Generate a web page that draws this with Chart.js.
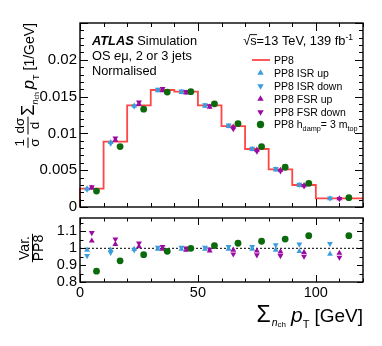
<!DOCTYPE html>
<html><head><meta charset="utf-8">
<script src="https://cdn.jsdelivr.net/npm/chart.js@4.4.1/dist/chart.umd.min.js"></script>
<style>
html,body{margin:0;padding:0;background:#fff;}
#wrap{position:relative;width:382px;height:346px;overflow:hidden;}
canvas{position:absolute;left:0;top:0;}
</style></head><body>
<div id="wrap"><canvas id="main" width="382" height="346"></canvas><canvas id="ratio" width="382" height="346"></canvas></div>
<script>
// ---------- data ----------
const binEdges = [0,10,20,30,40,50,60,70,80,90,100,120];
const pp8      = [0.00250,0.00887,0.01382,0.01590,0.01567,0.01380,0.01100,0.00788,0.00512,0.00299,0.00118];
const isrUp    = [0.00248,0.00878,0.01375,0.01582,0.01559,0.01373,0.01095,0.00784,0.00507,0.00294,0.00114];
const isrDown  = [0.00239,0.00865,0.01368,0.01598,0.01575,0.01387,0.01111,0.00796,0.00522,0.00306,0.00121];
const fsrUp    = [0.00261,0.00908,0.01396,0.01582,0.01551,0.01359,0.01089,0.00776,0.00502,0.00292,0.00115];
const fsrDown  = [0.00273,0.00935,0.01423,0.01606,0.01567,0.01373,0.01062,0.00756,0.00489,0.00285,0.00112];
const hdamp    = [0.00216,0.00821,0.01329,0.01561,0.01567,0.01402,0.01133,0.00821,0.00540,0.00321,0.00127];
const rIsrUp   = [0.990,0.990,0.995,0.995,0.995,0.995,0.995,0.995,0.990,0.982,0.966];
const rIsrDown = [0.956,0.975,0.990,1.005,1.005,1.005,1.010,1.010,1.020,1.024,1.028];
const rFsrUp   = [1.044,1.024,1.010,0.995,0.990,0.985,0.990,0.985,0.980,0.976,0.972];
const rFsrDown = [1.092,1.054,1.030,1.010,1.000,0.995,0.965,0.960,0.956,0.952,0.946];
const rHdamp   = [0.864,0.926,0.962,0.982,1.000,1.016,1.030,1.042,1.055,1.075,1.075];
const xTickValues = [0,50,100];
const xTickLabels = ['0','50','100'];
const mainYTickValues = [0,0.005,0.01,0.015,0.02];
const mainYTickLabels = ['0','0.005','0.01','0.015','0.02'];
const ratioYTickValues = [0.8,0.9,1,1.1];
const ratioYTickLabels = ['0.8','0.9','1','1.1'];

// ---------- style ----------
const FF = '"Liberation Sans", Arial, Helvetica, sans-serif';
const F = (s, st) => `${st||''} ${s}px ${FF}`.trim();
const C_PP8 = '#ff4646', C_ISR = '#3b9ddb', C_FSR = '#9b0aa2', C_HD = '#0b6a0b';
const R_MK = 3.4;

function markerPts(vals, frac){
  return vals.map((v,i)=>({x: binEdges[i] + frac*(binEdges[i+1]-binEdges[i]), y: v}));
}
function histPts(vals){
  const a=[{x:binEdges[0],y:0}];
  vals.forEach((v,i)=>a.push({x:binEdges[i],y:v}));
  a.push({x:binEdges[binEdges.length-1], y:vals[vals.length-1]});
  return a;
}
function mk(data, color, style, rot, order){
  return {type:'scatter', data, backgroundColor:color, borderColor:color, borderWidth:0,
    pointStyle:style, rotation:rot, pointRadius:R_MK, pointHoverRadius:R_MK, order:order};
}

// ---------- text helpers ----------
function drawRuns(ctx, runs, x, y, dry){
  let cx = x;
  for(const r of runs){
    ctx.font = r.font;
    if(r.frac){
      const w0 = ctx.measureText(r.frac[0]).width, w1 = ctx.measureText(r.frac[1]).width;
      const w = Math.max(w0,w1) + 2;
      if(!dry){
        ctx.fillText(r.frac[0], cx+(w-w0)/2, y+r.nb);
        ctx.fillText(r.frac[1], cx+(w-w1)/2, y+r.db);
        ctx.fillRect(cx, y+r.bar, w, 1);
      }
      cx += w + (r.gap||0);
    } else {
      if(!dry) ctx.fillText(r.t, cx, y+(r.dy||0));
      cx += ctx.measureText(r.t).width + (r.gap||0);
    }
  }
  return cx - x;
}

// ---------- decoration plugin ----------
const deco = {
  id:'deco',
  afterDraw(chart, args, o){
    const ctx = chart.ctx, a = chart.chartArea, xs = chart.scales.x, ys = chart.scales.y;
    ctx.save();
    ctx.strokeStyle = '#000'; ctx.lineWidth = 1;
    const ln = (x1,y1,x2,y2)=>{ctx.beginPath();ctx.moveTo(x1,y1);ctx.lineTo(x2,y2);ctx.stroke();};
    for(let i=0;;i++){
      const v = xs.min + i*o.xMinor; if(v>xs.max+1e-9) break;
      const px = Math.round(xs.getPixelForValue(v))+0.5;
      const maj = Math.abs(v/o.xMajor - Math.round(v/o.xMajor))<1e-6;
      const len = maj ? o.xMajLen : o.xMinLen;
      ln(px,a.bottom,px,a.bottom-len); ln(px,a.top,px,a.top+len);
    }
    for(let i=0;;i++){
      const v = o.yStart + i*o.yMinor; if(v>ys.max+1e-9) break;
      const py = Math.round(ys.getPixelForValue(v))+0.5;
      const maj = Math.abs(v/o.yMajor - Math.round(v/o.yMajor))<1e-6;
      const len = maj ? o.yMajLen : o.yMinLen;
      ln(a.left,py,a.left+len,py); ln(a.right,py,a.right-len,py);
    }
    ctx.lineWidth = 1.4;
    ctx.strokeRect(a.left, a.top, a.right-a.left, a.bottom-a.top);
    ctx.fillStyle = '#000';
    if(o.text) o.text(ctx, chart);
    ctx.restore();
  }
};
Chart.register(deco);

function mainText(ctx, chart){
  ctx.textBaseline = 'alphabetic';
  drawRuns(ctx, [{t:'ATLAS', font:F(12.8,'italic bold'), gap:0},{t:' Simulation', font:F(12.8)}], 92, 45);
  drawRuns(ctx, [{t:'OS ', font:F(12.8)},{t:'e', font:F(12.8,'italic')},{t:'μ, 2 or 3 jets', font:F(12.8)}], 92, 60);
  drawRuns(ctx, [{t:'Normalised', font:F(12.8)}], 92, 74.5);
  const sRuns = [{t:'√', font:F(12.8)},{t:'s', font:F(12.8)},{t:'=13 TeV, 139 fb', font:F(12.8)},{t:'-1', font:F(8.5), dy:-5}];
  const sw = drawRuns(ctx, sRuns, 0, 0, true);
  const sx = 353 - sw;
  drawRuns(ctx, sRuns, sx, 45);
  ctx.font = F(12.8);
  const w1 = ctx.measureText('√').width, w2 = ctx.measureText('s').width;
  ctx.fillRect(sx+w1-0.5, 34.2, w2+1, 0.9);
  // legend
  const lx = 260.5, tx = 274;
  const rows = [60, 73, 86, 99, 112, 124.5];
  ctx.strokeStyle = C_PP8; ctx.lineWidth = 1.8;
  ctx.beginPath(); ctx.moveTo(252, rows[0]); ctx.lineTo(270, rows[0]); ctx.stroke();
  const mks = [[C_ISR,'triangle',0],[C_ISR,'triangle',180],[C_FSR,'triangle',0],[C_FSR,'triangle',180],[C_HD,'circle',0]];
  mks.forEach((m,i)=>{
    ctx.fillStyle = m[0]; ctx.strokeStyle = m[0]; ctx.lineWidth = 0.5;
    Chart.helpers.drawPoint(ctx, {pointStyle:m[1], rotation:m[2], radius:R_MK+0.3, borderWidth:0}, lx, rows[i+1]);
  });
  ctx.fillStyle = '#000';
  const lf = F(10.5), sf = F(7.3);
  const labels = ['PP8','PP8 ISR up','PP8 ISR down','PP8 FSR up','PP8 FSR down'];
  labels.forEach((l,i)=>drawRuns(ctx,[{t:l,font:lf}], tx, rows[i]+3.8));
  drawRuns(ctx, [{t:'PP8 h',font:lf},{t:'damp',font:sf,dy:2.5},{t:'= 3 m',font:lf},{t:'top',font:sf,dy:2.5}], tx, rows[5]+3.8);
  // y axis title (rotated)
  const yr = [
    {frac:['1','σ'], font:F(13.5), nb:-10, db:4.5, bar:-6.5, gap:3},
    {frac:['dσ','d'], font:F(13.5), nb:-10, db:4.5, bar:-6.5, gap:1},
    {t:'Σ', font:F(18), gap:0},
    {t:'n', font:F(9,'italic'), dy:4},
    {t:'ch', font:F(7), dy:5, gap:3},
    {t:'p', font:F(16.5,'italic')},
    {t:'T', font:F(9), dy:5, gap:4},
    {t:'[1/GeV]', font:F(14)}
  ];
  const tw = drawRuns(ctx, yr, 0, 0, true);
  ctx.save();
  ctx.translate(34, 23 + tw);
  ctx.rotate(-Math.PI/2);
  drawRuns(ctx, yr, 0, 0);
  ctx.restore();
}

function ratioText(ctx, chart){
  ctx.textBaseline = 'alphabetic';
  const xr = [
    {t:'Σ', font:F(23), gap:1},
    {t:'n', font:F(10.5,'italic'), dy:4},
    {t:'ch', font:F(8), dy:5, gap:5},
    {t:'p', font:F(21,'italic')},
    {t:'T', font:F(11), dy:6, gap:5},
    {t:'[GeV]', font:F(19)}
  ];
  const w = drawRuns(ctx, xr, 0, 0, true);
  drawRuns(ctx, xr, 363 - w, 322);
  const yr = [{frac:['Var.','PP8'], font:F(14), nb:-3, db:11, bar:0}];
  const tw = drawRuns(ctx, yr, 0, 0, true);
  ctx.save();
  ctx.translate(32, 248 + tw/2);
  ctx.rotate(-Math.PI/2);
  drawRuns(ctx, yr, 0, 0);
  ctx.restore();
}

const common = { responsive:false, animation:false, devicePixelRatio:1, events:[] };

new Chart(document.getElementById('main'), {
  type:'scatter',
  data:{datasets:[
    {type:'line', data:histPts(pp8), stepped:'before', borderColor:C_PP8, borderWidth:1.8, pointRadius:0, fill:false, order:10, clip:false},
    mk(markerPts(isrUp,0.3), C_ISR, 'triangle', 0, 5),
    mk(markerPts(isrDown,0.3), C_ISR, 'triangle', 180, 5),
    mk(markerPts(fsrUp,0.5), C_FSR, 'triangle', 0, 4),
    mk(markerPts(fsrDown,0.5), C_FSR, 'triangle', 180, 4),
    mk(markerPts(hdamp,0.7), C_HD, 'circle', 0, 3)
  ]},
  options:Object.assign({}, common, {
    layout:{padding:{left:0, top:23, right:19, bottom:139}},
    plugins:{legend:{display:false}, tooltip:{enabled:false},
      deco:{xMinor:10, xMajor:50, xMajLen:8, xMinLen:4, yStart:0, yMinor:0.001, yMajor:0.005, yMajLen:8, yMinLen:4, text:mainText}},
    scales:{
      x:{type:'linear', min:0, max:120, grid:{display:false, drawTicks:false}, border:{display:false},
         ticks:{display:false}, afterFit:s=>{s.height=0;}},
      y:{type:'linear', min:0, max:0.025, grid:{display:false, drawTicks:false}, border:{display:false},
         afterBuildTicks:s=>{s.ticks = mainYTickValues.map(v=>({value:v}));},
         ticks:{color:'#000', font:{family:FF, size:15}, padding:3, callback:(v,i)=>mainYTickLabels[i]},
         afterFit:s=>{s.width=80;}}
    }
  })
});

new Chart(document.getElementById('ratio'), {
  type:'scatter',
  data:{datasets:[
    {type:'line', data:[{x:0,y:1},{x:120,y:1}], borderColor:'#000', borderWidth:1, borderDash:[2,2], pointRadius:0, fill:false, order:10},
    mk(markerPts(rIsrUp,0.3), C_ISR, 'triangle', 0, 5),
    mk(markerPts(rIsrDown,0.3), C_ISR, 'triangle', 180, 5),
    mk(markerPts(rFsrUp,0.5), C_FSR, 'triangle', 0, 4),
    mk(markerPts(rFsrDown,0.5), C_FSR, 'triangle', 180, 4),
    mk(markerPts(rHdamp,0.7), C_HD, 'circle', 0, 3)
  ]},
  options:Object.assign({}, common, {
    layout:{padding:{left:0, top:218, right:19, bottom:44}},
    plugins:{legend:{display:false}, tooltip:{enabled:false},
      deco:{xMinor:10, xMajor:50, xMajLen:7, xMinLen:3.5, yStart:0.8, yMinor:0.05, yMajor:0.1, yMajLen:6, yMinLen:3.5, text:ratioText}},
    scales:{
      x:{type:'linear', min:0, max:120, grid:{display:false, drawTicks:false}, border:{display:false},
         afterBuildTicks:s=>{s.ticks = xTickValues.map(v=>({value:v}));},
         ticks:{color:'#000', font:{family:FF, size:14.5}, padding:2, maxRotation:0, autoSkip:false, callback:(v,i)=>xTickLabels[i]},
         afterFit:s=>{s.height=20;}},
      y:{type:'linear', min:0.8, max:1.18, grid:{display:false, drawTicks:false}, border:{display:false},
         afterBuildTicks:s=>{s.ticks = ratioYTickValues.map(v=>({value:v}));},
         ticks:{color:'#000', font:{family:FF, size:14.5}, padding:3, callback:(v,i)=>ratioYTickLabels[i]},
         afterFit:s=>{s.width=80;}}
    }
  })
});
</script>
</body></html>
